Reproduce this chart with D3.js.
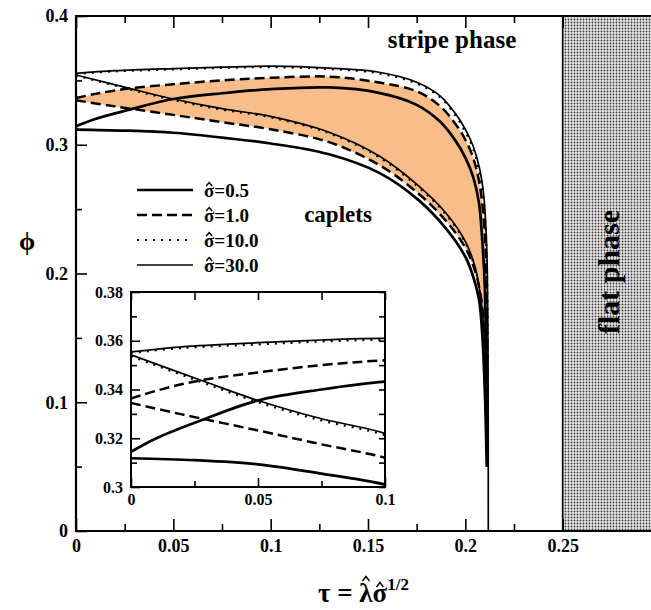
<!DOCTYPE html>
<html>
<head>
<meta charset="utf-8">
<script src="https://cdn.jsdelivr.net/npm/d3@7"></script>
<style>
body { margin: 0; background: #fff; }
svg text { font-family: "Liberation Serif", "Times New Roman", serif; font-weight: bold; fill: #000; }
</style>
</head>
<body>
<svg id="chart" width="651" height="610"></svg>
<script>
// boundaries of the caplet region, [tau, phi]
var sigma05Upper = [[0,0.3144],[0.01,0.320],[0.028,0.3275],[0.05,0.3355],[0.075,0.3400],[0.1,0.3432],[0.13,0.3445],[0.155,0.3405],[0.175,0.331],[0.187,0.318],[0.195,0.303],[0.2,0.290],[0.204,0.275],[0.207,0.255],[0.2085,0.23],[0.21,0.19],[0.2108,0.12],[0.2113,0.05]];
var sigma05Lower = [[0,0.3118],[0.025,0.311],[0.05,0.3093],[0.075,0.3055],[0.1,0.301],[0.13,0.2926],[0.156,0.278],[0.176,0.257],[0.19,0.235],[0.2,0.213],[0.2035,0.2],[0.207,0.18],[0.2088,0.15],[0.2102,0.1],[0.211,0.05]];
var sigma1Upper = [[0,0.3363],[0.01,0.3395],[0.027,0.3437],[0.05,0.347],[0.075,0.350],[0.1,0.352],[0.13,0.3529],[0.155,0.3485],[0.175,0.3415],[0.187,0.330],[0.195,0.316],[0.2,0.304],[0.204,0.290],[0.207,0.272],[0.209,0.25],[0.2105,0.215],[0.2112,0.15],[0.2115,0.05]];
var sigma1Lower = [[0,0.3345],[0.02,0.3298],[0.05,0.3232],[0.075,0.3175],[0.1,0.312],[0.13,0.302],[0.156,0.284],[0.176,0.262],[0.19,0.241],[0.2,0.22],[0.205,0.202],[0.2082,0.18],[0.2097,0.15],[0.2108,0.1],[0.2113,0.05]];
var sigma10Upper = [[0,0.355],[0.02,0.357],[0.05,0.3585],[0.075,0.3597],[0.1,0.3603],[0.13,0.3588],[0.155,0.3556],[0.175,0.3476],[0.187,0.337],[0.195,0.3225],[0.2,0.310],[0.204,0.297],[0.2072,0.279],[0.2093,0.258],[0.2108,0.22],[0.2114,0.15],[0.2116,0.05]];
var sigma10Lower = [[0,0.3537],[0.027,0.3433],[0.05,0.3348],[0.075,0.3273],[0.1,0.3213],[0.13,0.309],[0.156,0.290],[0.176,0.267],[0.19,0.246],[0.2,0.224],[0.205,0.204],[0.208,0.179],[0.2097,0.15],[0.2109,0.1],[0.2114,0.05]];
var sigma30Upper = [[0,0.3554],[0.02,0.3575],[0.05,0.3592],[0.075,0.3603],[0.1,0.3610],[0.13,0.3595],[0.155,0.3565],[0.175,0.3486],[0.187,0.338],[0.195,0.324],[0.2,0.312],[0.204,0.299],[0.2074,0.281],[0.2095,0.26],[0.211,0.22],[0.2116,0.15],[0.2118,0.0]];
var sigma30Lower = [[0,0.3542],[0.027,0.344],[0.05,0.3355],[0.075,0.328],[0.1,0.322],[0.13,0.3097],[0.156,0.291],[0.176,0.268],[0.19,0.247],[0.2,0.225],[0.205,0.205],[0.208,0.18],[0.2098,0.15],[0.211,0.1],[0.2115,0.05]];

var legendLabels = ["0.5", "1.0", "10.0", "30.0"];
var flatPhaseStart = 0.25;

var xTicksMain = [0, 0.05, 0.1, 0.15, 0.2, 0.25];
var xTickLabels = ["0", "0.05", "0.1", "0.15", "0.2", "0.25"];
var xMinorMain = [0.025, 0.075, 0.125, 0.175, 0.225];
var yTicksMain = [0, 0.1, 0.2, 0.3, 0.4];
var yTickLabels = ["0", "0.1", "0.2", "0.3", "0.4"];
var yMinorMain = [0.05, 0.15, 0.25, 0.35];

var xTicksInset = [0, 0.05, 0.1];
var xTickLabelsInset = ["0", "0.05", "0.1"];
var xMinorInset = [0.025, 0.075];
var yTicksInset = [0.3, 0.32, 0.34, 0.36, 0.38];
var yTickLabelsInset = ["0.3", "0.32", "0.34", "0.36", "0.38"];
var yMinorInset = [0.31, 0.33, 0.35, 0.37];

var svg = d3.select("#chart");

var x = d3.scaleLinear().domain([0, 0.3]).range([76, 660]);
var y = d3.scaleLinear().domain([0, 0.4]).range([531, 16]);
var xi = d3.scaleLinear().domain([0, 0.1]).range([131, 385]);
var yi = d3.scaleLinear().domain([0.3, 0.38]).range([487, 292]);

// line look of each sigma
var curveStyles = [
	{ key: "s10", width: 2.2, dash: "2,6" },
	{ key: "s30", width: 1.7, dash: null },
	{ key: "s1",  width: 2.5, dash: "10,5" },
	{ key: "s05", width: 2.7, dash: null }
];
var curveSets = {
	s05: [sigma05Upper, sigma05Lower],
	s1: [sigma1Upper, sigma1Lower],
	s10: [sigma10Upper, sigma10Lower],
	s30: [sigma30Upper, sigma30Lower]
};
var legendOrder = ["s05", "s1", "s10", "s30"];

var defs = svg.append("defs");
var pat = defs.append("pattern")
	.attr("id", "stipple")
	.attr("width", 3).attr("height", 3)
	.attr("patternUnits", "userSpaceOnUse");
pat.append("rect").attr("width", 3).attr("height", 3).attr("fill", "#e6e6e6");
pat.append("circle").attr("cx", 1.5).attr("cy", 1.5).attr("r", 0.9).attr("fill", "#3a3a3a");

defs.append("clipPath").attr("id", "clipMain").append("rect")
	.attr("x", x(0)).attr("y", y(0.4))
	.attr("width", x(0.3) - x(0)).attr("height", y(0) - y(0.4));
defs.append("clipPath").attr("id", "clipInset").append("rect")
	.attr("x", xi(0)).attr("y", yi(0.38))
	.attr("width", xi(0.1) - xi(0)).attr("height", yi(0.3) - yi(0.38));

// flat phase block
svg.append("rect")
	.attr("x", x(flatPhaseStart)).attr("y", y(0.4))
	.attr("width", x(0.3) - x(flatPhaseStart))
	.attr("height", y(0) - y(0.4))
	.attr("fill", "url(#stipple)");
svg.append("line")
	.attr("x1", x(flatPhaseStart)).attr("x2", x(flatPhaseStart))
	.attr("y1", y(0.4)).attr("y2", y(0))
	.attr("stroke", "#000").attr("stroke-width", 1.6);

function drawCurves(g, xs, ys, shaded) {
	var line = d3.line()
		.x(d => xs(d[0]))
		.y(d => ys(d[1]))
		.curve(d3.curveCatmullRom.alpha(0.5));
	// shaded region for sigma = 1.0
	if (shaded) {
		var region = sigma1Upper.concat(sigma1Lower.slice().reverse());
		g.append("path")
			.attr("d", line(region) + "Z")
			.attr("fill", "#f8bd88")
			.attr("stroke", "none");
	}
	curveStyles.forEach(function(st) {
		g.selectAll(null)
			.data(curveSets[st.key])
			.enter()
			.append("path")
			.attr("d", d => line(d))
			.attr("fill", "none")
			.attr("stroke", "#000")
			.attr("stroke-width", st.width)
			.attr("stroke-dasharray", st.dash);
	});
}

var gMain = svg.append("g").attr("clip-path", "url(#clipMain)");
drawCurves(gMain, x, y, true);

// main axes, ticks pointing inward
function styleAxis(g, size) {
	g.select(".domain").remove();
	g.selectAll(".tick line").attr("stroke", "#000").attr("stroke-width", 1.6);
	g.attr("font-size", size);
}
svg.append("g")
	.attr("transform", "translate(0," + y(0) + ")")
	.call(d3.axisBottom(x).tickValues(xTicksMain).tickSizeInner(-12).tickSizeOuter(0).tickPadding(8)
		.tickFormat((d, i) => xTickLabels[i]))
	.call(g => styleAxis(g, 18));
svg.append("g")
	.attr("transform", "translate(0," + y(0) + ")")
	.call(d3.axisBottom(x).tickValues(xMinorMain).tickSizeInner(-7).tickSizeOuter(0).tickFormat(""))
	.call(g => styleAxis(g, 18));
svg.append("g")
	.attr("transform", "translate(0," + y(0.4) + ")")
	.call(d3.axisTop(x).tickValues(xTicksMain).tickSizeInner(-12).tickSizeOuter(0).tickFormat(""))
	.call(g => styleAxis(g, 18));
svg.append("g")
	.attr("transform", "translate(0," + y(0.4) + ")")
	.call(d3.axisTop(x).tickValues(xMinorMain).tickSizeInner(-7).tickSizeOuter(0).tickFormat(""))
	.call(g => styleAxis(g, 18));
svg.append("g")
	.attr("transform", "translate(" + x(0) + ",0)")
	.call(d3.axisLeft(y).tickValues(yTicksMain).tickSizeInner(-11).tickSizeOuter(0).tickPadding(8)
		.tickFormat((d, i) => yTickLabels[i]))
	.call(g => styleAxis(g, 18));
svg.append("g")
	.attr("transform", "translate(" + x(0) + ",0)")
	.call(d3.axisLeft(y).tickValues(yMinorMain).tickSizeInner(-6).tickSizeOuter(0).tickFormat(""))
	.call(g => styleAxis(g, 18));

svg.append("path")
	.attr("d", "M" + x(0.3) + "," + y(0.4) + "H" + x(0) + "V" + y(0) + "H" + x(0.3))
	.attr("fill", "none")
	.attr("stroke", "#000")
	.attr("stroke-width", 2.2);

// region labels
svg.append("text")
	.attr("x", 452).attr("y", 48)
	.attr("text-anchor", "middle")
	.attr("font-size", 25)
	.text("stripe phase");
svg.append("text")
	.attr("x", 338).attr("y", 222)
	.attr("text-anchor", "middle")
	.attr("font-size", 23)
	.text("caplets");
svg.append("text")
	.attr("transform", "translate(619,272) rotate(-90)")
	.attr("text-anchor", "middle")
	.attr("font-size", 30)
	.text("flat phase");

// small "^" drawn over one character of a text
function addHat(textSel, charIndex, baseY, lift, half, rise) {
	var ext = textSel.node().getExtentOfChar(charIndex);
	var cx = ext.x + ext.width / 2;
	var by = baseY - lift;
	svg.append("path")
		.attr("d", "M" + (cx - half) + "," + by + "L" + cx + "," + (by - rise) + "L" + (cx + half) + "," + by)
		.attr("fill", "none")
		.attr("stroke", "#000")
		.attr("stroke-width", 1.4);
}

// legend
var legend = svg.append("g");
legendOrder.forEach(function(key, i) {
	var st = curveStyles.find(s => s.key == key);
	var ly = 190 + i * 25;
	legend.append("line")
		.attr("x1", 137).attr("x2", 193)
		.attr("y1", ly).attr("y2", ly)
		.attr("stroke", "#000")
		.attr("stroke-width", st.width)
		.attr("stroke-dasharray", st.dash);
	var t = legend.append("text")
		.attr("x", 204).attr("y", ly + 7)
		.attr("font-size", 19)
		.text("\u03c3=" + legendLabels[i]);
	addHat(t, 0, ly + 7, 11, 3, 3.5);
});

// inset
svg.append("rect")
	.attr("x", xi(0)).attr("y", yi(0.38))
	.attr("width", xi(0.1) - xi(0)).attr("height", yi(0.3) - yi(0.38))
	.attr("fill", "#fff");
var gInset = svg.append("g").attr("clip-path", "url(#clipInset)");
drawCurves(gInset, xi, yi, false);

svg.append("g")
	.attr("transform", "translate(0," + yi(0.3) + ")")
	.call(d3.axisBottom(xi).tickValues(xTicksInset).tickSizeInner(-9).tickSizeOuter(0).tickPadding(7)
		.tickFormat((d, i) => xTickLabelsInset[i]))
	.call(g => styleAxis(g, 16));
svg.append("g")
	.attr("transform", "translate(0," + yi(0.3) + ")")
	.call(d3.axisBottom(xi).tickValues(xMinorInset).tickSizeInner(-6).tickSizeOuter(0).tickFormat(""))
	.call(g => styleAxis(g, 16));
svg.append("g")
	.attr("transform", "translate(0," + yi(0.38) + ")")
	.call(d3.axisTop(xi).tickValues(xTicksInset.concat(xMinorInset)).tickSizeInner(-8).tickSizeOuter(0).tickFormat(""))
	.call(g => styleAxis(g, 16));
svg.append("g")
	.attr("transform", "translate(" + xi(0) + ",0)")
	.call(d3.axisLeft(yi).tickValues(yTicksInset).tickSizeInner(-9).tickSizeOuter(0).tickPadding(8)
		.tickFormat((d, i) => yTickLabelsInset[i]))
	.call(g => styleAxis(g, 16));
svg.append("g")
	.attr("transform", "translate(" + xi(0) + ",0)")
	.call(d3.axisLeft(yi).tickValues(yMinorInset).tickSizeInner(-6).tickSizeOuter(0).tickFormat(""))
	.call(g => styleAxis(g, 16));
svg.append("g")
	.attr("transform", "translate(" + xi(0.1) + ",0)")
	.call(d3.axisRight(yi).tickValues(yTicksInset.concat(yMinorInset)).tickSizeInner(-6).tickSizeOuter(0).tickFormat(""))
	.call(g => styleAxis(g, 16));
svg.append("rect")
	.attr("x", xi(0)).attr("y", yi(0.38))
	.attr("width", xi(0.1) - xi(0)).attr("height", yi(0.3) - yi(0.38))
	.attr("fill", "none")
	.attr("stroke", "#000")
	.attr("stroke-width", 2);

// axis titles
svg.append("text")
	.attr("x", 27).attr("y", 250)
	.attr("text-anchor", "middle")
	.attr("font-size", 26)
	.text("\u03d5");
var xTitle = svg.append("text")
	.attr("x", 318).attr("y", 602)
	.attr("font-size", 27);
xTitle.append("tspan").text("\u03c4 = \u03bb\u03c3");
xTitle.append("tspan").attr("dy", -12).attr("font-size", 17).text("1/2");
addHat(xTitle, 4, 602, 21, 3.5, 4.5);
addHat(xTitle, 5, 602, 15, 3.5, 4.5);
</script>
</body>
</html>
